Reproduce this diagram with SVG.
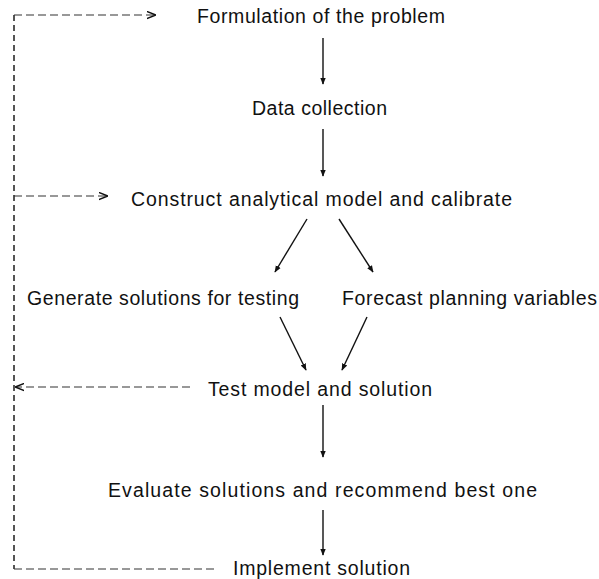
<svg xmlns="http://www.w3.org/2000/svg" width="599" height="579" viewBox="0 0 599 579">
<style>
text { font-family: "Liberation Sans", Arial, sans-serif; font-size: 19.5px; fill: #111; }
.arr { stroke: #111; stroke-width: 1.4; fill: none; marker-end: url(#ah); }
.fb { stroke: #333; stroke-width: 1.2; fill: none; stroke-dasharray: 8 4; }
.fbv { stroke: #555; stroke-width: 2; fill: none; stroke-dasharray: 6 4; }
.fba { marker-end: url(#oh); }
</style>
<defs>
<marker id="ah" viewBox="0 0 10 10" refX="9" refY="5" markerWidth="7" markerHeight="7" markerUnits="userSpaceOnUse" orient="auto">
<path d="M0,1 L10,5 L0,9 Z" fill="#111"/>
</marker>
<marker id="oh" viewBox="0 0 10 10" refX="9" refY="5" markerWidth="9" markerHeight="9" markerUnits="userSpaceOnUse" orient="auto">
<path d="M0,1 L10,5 L0,9" fill="none" stroke="#111" stroke-width="1.5"/>
</marker>
</defs>
<rect width="599" height="579" fill="#fff"/>
<g id="connectors">
<line class="arr" x1="323" y1="38" x2="323" y2="84"/>
<line class="arr" x1="323" y1="129" x2="323" y2="176"/>
<line class="arr" x1="307" y1="219" x2="275" y2="272"/>
<line class="arr" x1="339" y1="219" x2="373" y2="272"/>
<line class="arr" x1="280" y1="317" x2="306" y2="370"/>
<line class="arr" x1="367" y1="317" x2="342" y2="370"/>
<line class="arr" x1="323" y1="405" x2="323" y2="457"/>
<line class="arr" x1="323" y1="510" x2="323" y2="555"/>
<line class="fbv" x1="14" y1="15" x2="14" y2="569"/>
<line class="fb fba" x1="14" y1="15" x2="155" y2="15"/>
<line class="fb fba" x1="14" y1="196" x2="107" y2="196"/>
<line class="fb fba" x1="190" y1="387" x2="16" y2="387"/>
<line class="fb" x1="14" y1="569" x2="215" y2="569"/>
</g>
<g id="n1"><text x="197" y="23" textLength="248" lengthAdjust="spacing">Formulation of the problem</text></g>
<g id="n2"><text x="252" y="115" textLength="135" lengthAdjust="spacing">Data collection</text></g>
<g id="n3"><text x="131" y="206" textLength="381" lengthAdjust="spacing">Construct analytical model and calibrate</text></g>
<g id="n4"><text x="27" y="305" textLength="272" lengthAdjust="spacing">Generate solutions for testing</text></g>
<g id="n5"><text x="342" y="305" textLength="255" lengthAdjust="spacing">Forecast planning variables</text></g>
<g id="n6"><text x="208" y="396" textLength="224" lengthAdjust="spacing">Test model and solution</text></g>
<g id="n7"><text x="108" y="497" textLength="429" lengthAdjust="spacing">Evaluate solutions and recommend best one</text></g>
<g id="n8"><text x="233" y="575" textLength="177" lengthAdjust="spacing">Implement solution</text></g>
</svg>
